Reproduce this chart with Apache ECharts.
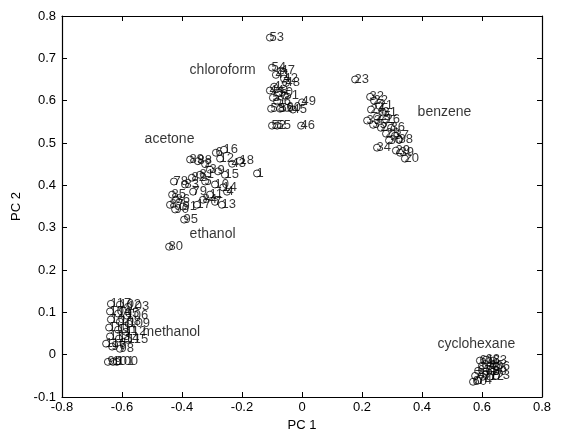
<!DOCTYPE html>
<html>
<head>
<meta charset="utf-8">
<script src="https://cdn.jsdelivr.net/npm/echarts@6/dist/echarts.min.js"></script>
<style>
  html, body { margin: 0; padding: 0; background: #fff; }
  #main { width: 566px; height: 437px; }
</style>
</head>
<body>
<div id="main"></div>
<script>
// scores on PC1 / PC2 with sample number: [pc1, pc2, id]
var chloroformPts = [
  [-0.107, 0.749, 53], [-0.100, 0.678, 54], [-0.070, 0.671, 47], [-0.087, 0.661, 41],
  [-0.060, 0.652, 42], [-0.093, 0.633, 43], [-0.053, 0.642, 48], [-0.107, 0.624, 44],
  [-0.077, 0.619, 50], [-0.057, 0.612, 51], [-0.097, 0.607, 57], [-0.083, 0.598, 56],
  [-0.103, 0.581, 58], [-0.073, 0.581, 59], [-0.050, 0.583, 60], [-0.030, 0.579, 45],
  [0.000, 0.596, 49], [-0.100, 0.541, 52], [-0.083, 0.541, 55], [-0.003, 0.541, 46]
];
var benzenePts = [
  [0.177, 0.650, 23], [0.227, 0.609, 32], [0.240, 0.600, 22], [0.257, 0.588, 21],
  [0.230, 0.579, 24], [0.270, 0.572, 31], [0.250, 0.562, 25], [0.217, 0.553, 33],
  [0.280, 0.555, 26], [0.237, 0.543, 35], [0.263, 0.536, 27], [0.297, 0.536, 36],
  [0.280, 0.522, 28], [0.310, 0.517, 37], [0.323, 0.508, 38], [0.290, 0.506, 30],
  [0.250, 0.489, 34], [0.313, 0.482, 29], [0.327, 0.477, 39], [0.343, 0.463, 20]
];
var acetoneEthanolPts = [
  [-0.260, 0.484, 16], [-0.287, 0.477, 6], [-0.273, 0.463, 12], [-0.233, 0.451, 43],
  [-0.207, 0.458, 18], [-0.150, 0.428, 1], [-0.373, 0.461, 89], [-0.347, 0.457, 88],
  [-0.323, 0.450, 2], [-0.307, 0.437, 3], [-0.280, 0.433, 9], [-0.257, 0.425, 15],
  [-0.340, 0.425, 81], [-0.367, 0.418, 82], [-0.427, 0.409, 78], [-0.390, 0.402, 83],
  [-0.323, 0.409, 5], [-0.290, 0.402, 10], [-0.263, 0.395, 14], [-0.250, 0.385, 4],
  [-0.363, 0.385, 79], [-0.307, 0.378, 11], [-0.330, 0.366, 84], [-0.290, 0.361, 7],
  [-0.267, 0.354, 13], [-0.350, 0.354, 17], [-0.433, 0.378, 85], [-0.420, 0.366, 86],
  [-0.440, 0.354, 87], [-0.423, 0.343, 90], [-0.397, 0.350, 91], [-0.393, 0.319, 95],
  [-0.443, 0.255, 80]
];
var methanolPts = [
  [-0.637, 0.120, 117], [-0.607, 0.118, 102], [-0.580, 0.113, 103], [-0.640, 0.102, 104],
  [-0.613, 0.097, 105], [-0.583, 0.092, 106], [-0.637, 0.083, 107], [-0.607, 0.078, 108],
  [-0.577, 0.073, 109], [-0.643, 0.064, 110], [-0.613, 0.059, 111], [-0.587, 0.054, 112],
  [-0.640, 0.043, 113], [-0.610, 0.038, 114], [-0.580, 0.035, 115], [-0.653, 0.026, 116],
  [-0.633, 0.019, 97], [-0.607, 0.014, 98], [-0.647, -0.017, 99], [-0.630, -0.017, 101],
  [-0.617, -0.017, 100]
];
var cyclohexanePts = [
  [0.593, -0.014, 61], [0.613, -0.012, 62], [0.637, -0.014, 63], [0.600, -0.026, 64],
  [0.627, -0.026, 65], [0.647, -0.028, 66], [0.587, -0.038, 67], [0.613, -0.040, 68],
  [0.637, -0.040, 69], [0.577, -0.050, 70], [0.603, -0.052, 71], [0.627, -0.052, 72],
  [0.647, -0.050, 73], [0.587, -0.061, 74], [0.570, -0.064, 60]
];
// group captions and where their text starts
var groupNames = ['chloroform', 'benzene', 'acetone', 'ethanol', 'methanol', 'cyclohexane'];
var groupPos = [
  [-0.373, 0.671], [0.387, 0.571], [-0.523, 0.507],
  [-0.373, 0.284], [-0.530, 0.052], [0.453, 0.024]
];
var xTicks = { min: -0.8, max: 0.8, interval: 0.2 };
var yTicks = { min: -0.1, max: 0.8, interval: 0.1 };

var chart = echarts.init(document.getElementById('main'));
var font = 'Liberation Sans, Arial, Helvetica, sans-serif';
var ink = '#000';

function ptSeries(name, pts) {
  return {
    name: name,
    type: 'scatter',
    symbol: 'circle',
    symbolSize: 7,
    itemStyle: { color: 'transparent', borderColor: ink, borderWidth: 1 },
    label: {
      show: true,
      position: [3.5, 3.5],
      align: 'left',
      verticalAlign: 'middle',
      color: ink,
      fontFamily: font,
      fontSize: 13,
      formatter: function (p) { return p.value[2]; }
    },
    data: pts
  };
}

function fmt(v) {
  return (Math.round(v * 10) / 10).toString();
}

var axisLine = { show: true, onZero: false, lineStyle: { color: ink, width: 1.2 } };
var tick = { show: true, inside: true, length: 5, lineStyle: { color: ink } };

var option = {
  backgroundColor: '#fff',
  animation: false,
  grid: { left: 62, right: 24, top: 16, bottom: 40 },
  xAxis: [{
    type: 'value', min: xTicks.min, max: xTicks.max, interval: xTicks.interval,
    name: 'PC 1', nameLocation: 'middle', nameGap: 17,
    nameTextStyle: { color: ink, fontFamily: font, fontSize: 13 },
    axisLine: axisLine, axisTick: tick, splitLine: { show: false },
    axisLabel: { color: ink, fontFamily: font, fontSize: 13, margin: 4, formatter: fmt }
  }, {
    type: 'value', position: 'top', min: xTicks.min, max: xTicks.max, interval: xTicks.interval,
    axisLine: axisLine, axisTick: tick, splitLine: { show: false }, axisLabel: { show: false }
  }],
  yAxis: [{
    type: 'value', min: yTicks.min, max: yTicks.max, interval: yTicks.interval,
    name: 'PC 2', nameLocation: 'middle', nameGap: 38,
    nameTextStyle: { color: ink, fontFamily: font, fontSize: 13 },
    axisLine: axisLine, axisTick: tick, splitLine: { show: false },
    axisLabel: { color: ink, fontFamily: font, fontSize: 13, margin: 6, formatter: fmt }
  }, {
    type: 'value', position: 'right', min: yTicks.min, max: yTicks.max, interval: yTicks.interval,
    axisLine: axisLine, axisTick: tick, splitLine: { show: false }, axisLabel: { show: false }
  }],
  series: [
    ptSeries('chloroform', chloroformPts),
    ptSeries('benzene', benzenePts),
    ptSeries('acetone/ethanol', acetoneEthanolPts),
    ptSeries('methanol', methanolPts),
    ptSeries('cyclohexane', cyclohexanePts),
    {
      name: 'captions',
      type: 'scatter',
      symbol: 'circle',
      symbolSize: 1,
      silent: true,
      itemStyle: { color: 'transparent' },
      label: {
        show: true,
        position: [0, 0],
        align: 'left',
        verticalAlign: 'middle',
        color: ink,
        fontFamily: font,
        fontSize: 14,
        formatter: function (p) { return p.name; }
      },
      data: groupNames.map(function (n, i) {
        return { name: n, value: groupPos[i] };
      })
    }
  ]
};
chart.setOption(option);
</script>
</body>
</html>
